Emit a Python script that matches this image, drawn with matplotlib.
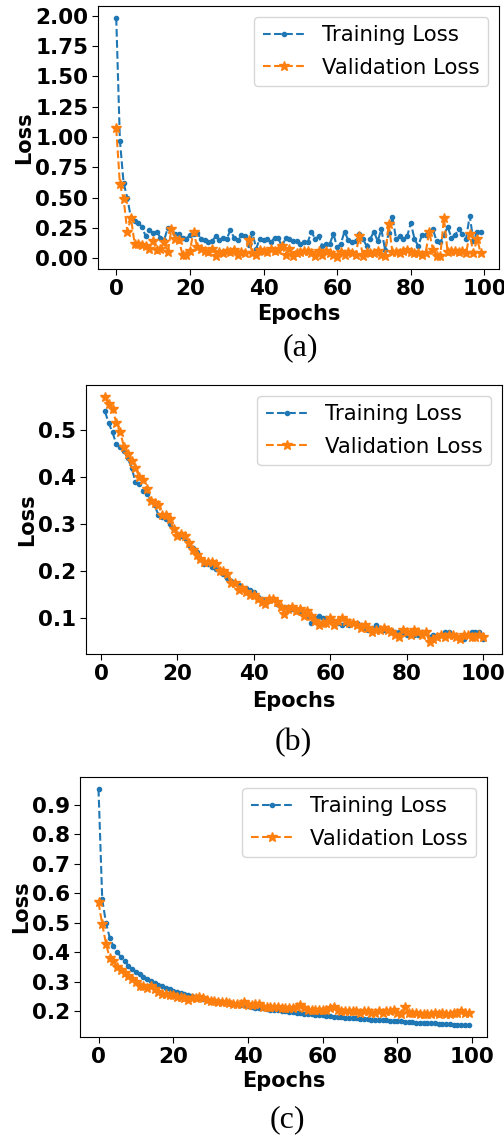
import matplotlib
matplotlib.use("Agg")
import matplotlib.pyplot as plt

# ---------------- data ----------------
epochs_a = list(range(0, 100))
train_a = [1.98, 0.97, 0.62, 0.50, 0.33, 0.31, 0.29, 0.26, 0.18, 0.23,
           0.21, 0.22, 0.17, 0.15, 0.25, 0.24, 0.20, 0.20, 0.17, 0.16,
           0.19, 0.20, 0.21, 0.16, 0.15, 0.13, 0.14, 0.18, 0.15, 0.17,
           0.16, 0.23, 0.17, 0.15, 0.19, 0.18, 0.11, 0.21, 0.08, 0.16,
           0.15, 0.16, 0.13, 0.17, 0.17, 0.09, 0.17, 0.16, 0.14, 0.14,
           0.12, 0.13, 0.13, 0.22, 0.16, 0.18, 0.10, 0.12, 0.12, 0.20,
           0.09, 0.12, 0.22, 0.15, 0.13, 0.14, 0.20, 0.16, 0.10, 0.16,
           0.22, 0.14, 0.24, 0.07, 0.21, 0.34, 0.16, 0.18, 0.16, 0.18,
           0.29, 0.16, 0.10, 0.19, 0.19, 0.22, 0.24, 0.14, 0.13, 0.19,
           0.26, 0.17, 0.19, 0.24, 0.20, 0.16, 0.35, 0.14, 0.22, 0.22]
val_a = [1.07, 0.61, 0.49, 0.22, 0.33, 0.12, 0.12, 0.11, 0.10, 0.08,
         0.14, 0.07, 0.08, 0.13, 0.05, 0.24, 0.16, 0.15, 0.03, 0.03,
         0.06, 0.22, 0.09, 0.08, 0.06, 0.05, 0.08, 0.02, 0.05, 0.04,
         0.06, 0.05, 0.07, 0.03, 0.05, 0.04, 0.15, 0.04, 0.03, 0.07,
         0.06, 0.05, 0.08, 0.06, 0.07, 0.10, 0.03, 0.08, 0.02, 0.04,
         0.05, 0.06, 0.06, 0.04, 0.02, 0.06, 0.03, 0.06, 0.04, 0.03,
         0.01, 0.05, 0.03, 0.05, 0.04, 0.03, 0.18, 0.02, 0.05, 0.04,
         0.04, 0.06, 0.03, 0.02, 0.28, 0.05, 0.05, 0.04, 0.06, 0.07,
         0.05, 0.04, 0.04, 0.03, 0.04, 0.22, 0.07, 0.02, 0.02, 0.33,
         0.05, 0.06, 0.06, 0.05, 0.06, 0.04, 0.20, 0.04, 0.16, 0.04]

epochs_b = list(range(1, 101))
train_b = [0.540, 0.515, 0.495, 0.470, 0.465, 0.455, 0.440, 0.420, 0.390, 0.385,
           0.370, 0.365, 0.350, 0.340, 0.320, 0.315, 0.310, 0.300, 0.290, 0.280,
           0.275, 0.270, 0.255, 0.250, 0.240, 0.225, 0.215, 0.215, 0.210, 0.205,
           0.200, 0.195, 0.185, 0.180, 0.175, 0.170, 0.165, 0.165, 0.160, 0.155,
           0.145, 0.140, 0.130, 0.140, 0.140, 0.130, 0.125, 0.125, 0.120, 0.120,
           0.115, 0.115, 0.110, 0.105, 0.090, 0.100, 0.105, 0.100, 0.100, 0.095,
           0.095, 0.090, 0.085, 0.090, 0.085, 0.090, 0.090, 0.085, 0.080, 0.075,
           0.080, 0.085, 0.080, 0.075, 0.075, 0.075, 0.070, 0.070, 0.070, 0.065,
           0.070, 0.065, 0.065, 0.070, 0.070, 0.060, 0.065, 0.060, 0.065, 0.070,
           0.070, 0.065, 0.060, 0.060, 0.055, 0.065, 0.070, 0.070, 0.070, 0.055]
val_b = [0.570, 0.555, 0.545, 0.515, 0.495, 0.465, 0.450, 0.435, 0.420, 0.400,
         0.395, 0.375, 0.350, 0.345, 0.340, 0.320, 0.320, 0.310, 0.290, 0.275,
         0.280, 0.275, 0.260, 0.245, 0.235, 0.225, 0.220, 0.220, 0.220, 0.215,
         0.200, 0.200, 0.195, 0.175, 0.175, 0.160, 0.165, 0.155, 0.150, 0.150,
         0.140, 0.135, 0.130, 0.140, 0.140, 0.135, 0.125, 0.110, 0.120, 0.125,
         0.115, 0.120, 0.105, 0.115, 0.105, 0.095, 0.085, 0.090, 0.090, 0.100,
         0.085, 0.095, 0.100, 0.095, 0.090, 0.090, 0.085, 0.080, 0.085, 0.080,
         0.070, 0.075, 0.075, 0.080, 0.075, 0.070, 0.065, 0.060, 0.075, 0.070,
         0.065, 0.075, 0.070, 0.065, 0.070, 0.050, 0.055, 0.060, 0.065, 0.060,
         0.065, 0.065, 0.060, 0.055, 0.065, 0.065, 0.060, 0.060, 0.065, 0.060]

epochs_c = list(range(0, 100))
train_c = [0.955, 0.580, 0.500, 0.450, 0.420, 0.400, 0.385, 0.370, 0.355, 0.345,
           0.335, 0.325, 0.318, 0.310, 0.303, 0.297, 0.290, 0.285, 0.280, 0.275,
           0.270, 0.266, 0.262, 0.258, 0.255, 0.252, 0.249, 0.246, 0.243, 0.240,
           0.238, 0.236, 0.234, 0.232, 0.230, 0.228, 0.226, 0.224, 0.222, 0.220,
           0.218, 0.216, 0.212, 0.210, 0.210, 0.208, 0.206, 0.205, 0.203, 0.201,
           0.200, 0.198, 0.197, 0.195, 0.193, 0.192, 0.190, 0.190, 0.189, 0.187,
           0.186, 0.185, 0.183, 0.182, 0.181, 0.180, 0.179, 0.178, 0.177, 0.176,
           0.175, 0.174, 0.173, 0.172, 0.171, 0.170, 0.170, 0.169, 0.168, 0.167,
           0.166, 0.166, 0.165, 0.164, 0.163, 0.162, 0.162, 0.161, 0.160, 0.160,
           0.159, 0.158, 0.157, 0.157, 0.156, 0.155, 0.155, 0.154, 0.153, 0.153]
val_c = [0.570, 0.495, 0.430, 0.380, 0.370, 0.350, 0.340, 0.330, 0.320, 0.310,
         0.300, 0.285, 0.285, 0.280, 0.285, 0.275, 0.265, 0.260, 0.260, 0.255,
         0.255, 0.250, 0.250, 0.245, 0.240, 0.245, 0.245, 0.250, 0.245, 0.240,
         0.235, 0.235, 0.230, 0.230, 0.230, 0.228, 0.225, 0.225, 0.225, 0.230,
         0.220, 0.220, 0.225, 0.225, 0.215, 0.215, 0.215, 0.215, 0.215, 0.210,
         0.210, 0.210, 0.210, 0.215, 0.220, 0.210, 0.205, 0.205, 0.205, 0.205,
         0.205, 0.205, 0.210, 0.215, 0.205, 0.200, 0.200, 0.200, 0.200, 0.200,
         0.195, 0.200, 0.200, 0.195, 0.195, 0.200, 0.195, 0.200, 0.200, 0.205,
         0.195, 0.190, 0.215, 0.195, 0.195, 0.195, 0.190, 0.190, 0.190, 0.190,
         0.195, 0.190, 0.195, 0.190, 0.190, 0.195, 0.195, 0.200, 0.195, 0.195]

xticks_all = [0, 20, 40, 60, 80, 100]
yticks_a = [0.00, 0.25, 0.50, 0.75, 1.00, 1.25, 1.50, 1.75, 2.00]
yticks_b = [0.1, 0.2, 0.3, 0.4, 0.5]
yticks_c = [0.2, 0.3, 0.4, 0.5, 0.6, 0.7, 0.8, 0.9]
captions = ["(a)", "(b)", "(c)"]
series_labels = ["Training Loss", "Validation Loss"]

# ---------------- figure ----------------
fig = plt.figure(figsize=(5.04, 11.38), dpi=100)

axes_rects = [
    [98 / 504, 1 - 269 / 1138, 401 / 504, 263 / 1138],
    [86 / 504, 1 - 654 / 1138, 416 / 504, 269 / 1138],
    [80 / 504, 1 - 1037 / 1138, 407 / 504, 260 / 1138],
]
panels = [
    (epochs_a, train_a, val_a, yticks_a, "{:.2f}"),
    (epochs_b, train_b, val_b, yticks_b, "{:.1f}"),
    (epochs_c, train_c, val_c, yticks_c, "{:.1f}"),
]
caption_pos = [(300, 348), (293, 743), (287, 1120)]
xlabel_pads = [4, 5, 3]

for rect, (ep, tr, va, yt, fmt), cap, cpos, lp in zip(axes_rects, panels, captions,
                                                      caption_pos, xlabel_pads):
    ax = fig.add_axes(rect)
    ax.plot(ep, tr, linestyle="--", marker=".", color="tab:blue",
            markersize=6, linewidth=1.5, label=series_labels[0])
    ax.plot(ep, va, linestyle="--", marker="*", color="tab:orange",
            markersize=7, linewidth=1.5, label=series_labels[1])
    ax.set_xticks(xticks_all)
    ax.set_xticklabels([str(t) for t in xticks_all], fontsize=15.5, fontweight="bold")
    ax.set_yticks(yt)
    ax.set_yticklabels([fmt.format(t) for t in yt], fontsize=15.5, fontweight="bold")
    ax.set_xlabel("Epochs", fontsize=15, fontweight="bold", labelpad=lp)
    ax.set_ylabel("Loss", fontsize=15, fontweight="bold", labelpad=1)
    ax.tick_params(axis="both", length=4, pad=3)
    ax.legend(loc="upper right", fontsize=15.3, labelspacing=0.6)
    fig.text(cpos[0] / 504, 1 - cpos[1] / 1138, cap, ha="center", va="center",
             fontsize=23, family="Liberation Serif")

fig.savefig("out.png", dpi=100)
